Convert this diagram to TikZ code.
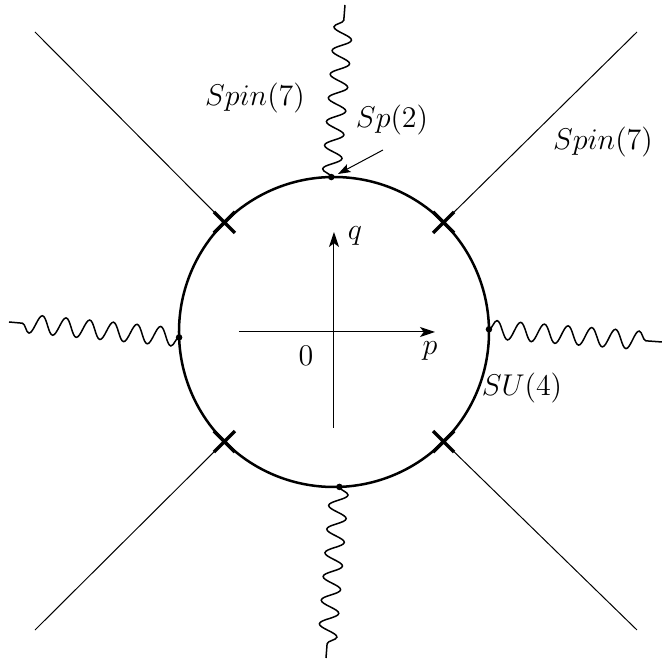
\documentclass[tikz,border=0pt]{standalone}
\usepackage{amsmath,amssymb}
\usepackage{tikz}
\usetikzlibrary{decorations.pathmorphing,shapes.misc,arrows.meta}

\begin{document}
\begin{tikzpicture}[x=0.4pt,y=0.4pt,font=\large,
    wave/.style={decorate,decoration={snake,amplitude=3.7pt,segment length=9.5pt,post length=3pt},semithick},
    xmark/.style={cross out,draw,line width=1.4pt,minimum size=7pt,inner sep=0pt},
    dotpt/.style={circle,fill,inner sep=0pt,minimum size=2.6pt}]
    \useasboundingbox (-334,-328) rectangle (328,332);

    % Kreis
    \node[draw,circle,line width=1pt,minimum size=124pt,inner sep=0pt,outer sep=0pt] (ring) at (0,0) {};

    % Endpunkte
    \coordinate (nw) at (-299,300);
    \coordinate (ne) at (303,300);
    \coordinate (sw) at (-299,-298);
    \coordinate (se) at (303,-298);
    \coordinate (et) at (11,327);
    \coordinate (eb) at (-8,-326);
    \coordinate (el) at (-325,10);
    \coordinate (er) at (328,-10);

    % Kreuze mit Linien
    \foreach \a/\n/\c in {45/xne/ne,135/xnw/nw,225/xsw/sw,315/xse/se}{
        \draw (ring.\a) -- (\c);
        \node[xmark] (\n) at (ring.\a) {};
    }

    % Wellen
    \foreach \a/\n/\e in {91/dt/et,-88.5/db/eb,182/dl/el,1/dr/er}{
        \node[dotpt] (\n) at (ring.\a) {};
        \draw[wave] (\n.center) -- (\e);
    }

    % Achsen
    \coordinate (ax0) at (-95,0);
    \coordinate (ax1) at (101,0);
    \coordinate (ay0) at (0,-96);
    \coordinate (ay1) at (0,100);
    \draw[-{Stealth[length=6pt,width=4pt,inset=1.5pt]}] (ax0) -- (ax1);
    \draw[-{Stealth[length=6pt,width=4pt,inset=1.5pt]}] (ay0) -- (ay1);
    \node (q) at (21,96) {$q$};
    \node (p) at (96,-19) {$p$};
    \node (o) at (-28,-24) {$0$};

    % Beschriftungen
    \node (spinl) at (-79,234) {$Spin(7)$};
    \node (spinr) at (269,190) {$Spin(7)$};
    \node (sp) at (58,212) {$Sp(2)$};
    \node (su) at (188,-56) {$SU(4)$};
    \coordinate (spa) at (49,182);
    \coordinate (spb) at (4,158);
    \draw[-{Stealth[length=5pt,width=3.5pt,inset=1pt]}] (spa) -- (spb);
\end{tikzpicture}
\end{document}
